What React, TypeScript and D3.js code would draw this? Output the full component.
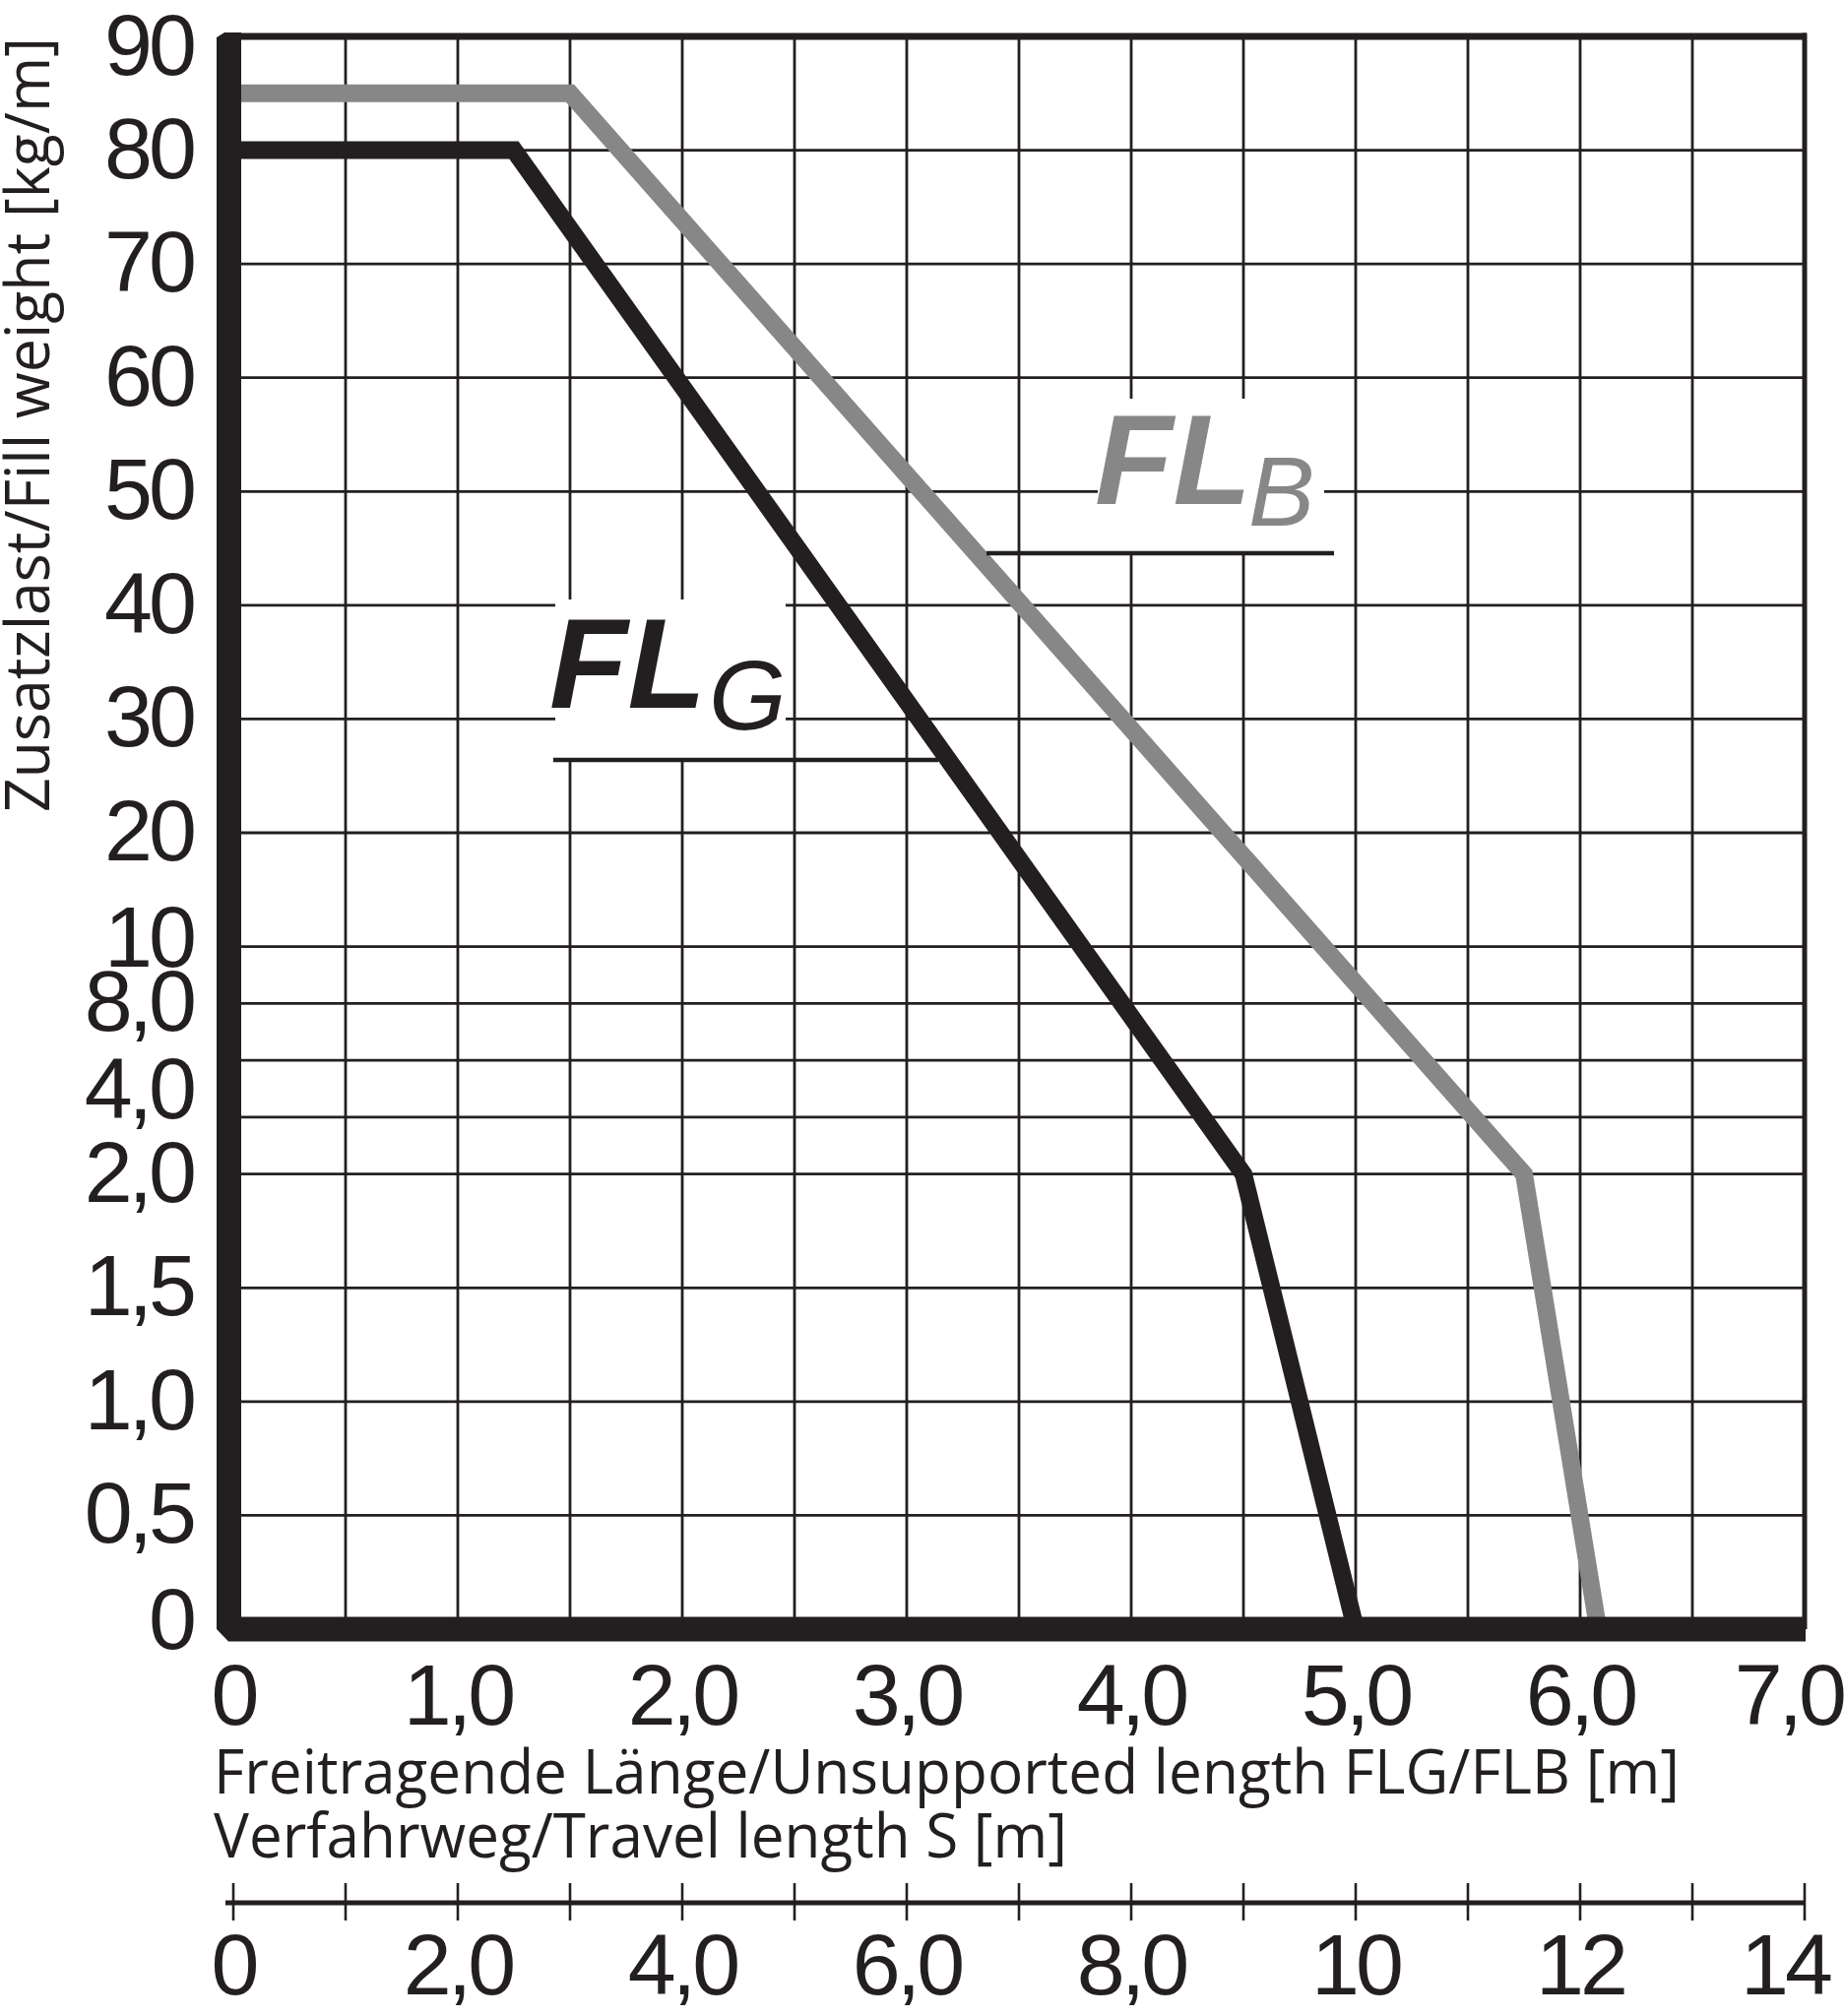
import React from "react";
import * as d3 from "d3";

// ---------- data ----------
const lengthG = [0, 1.25, 4.5, 5.0];
const weightG = [80, 80, 2, 0];
const lengthB = [0, 1.5, 5.75, 6.08];
const weightB = [85, 85, 2, 0];

const xTickValues = [0, 1, 2, 3, 4, 5, 6, 7];
const xTickLabels = ["0", "1,0", "2,0", "3,0", "4,0", "5,0", "6,0", "7,0"];

const sTickLabelValues = [0, 2, 4, 6, 8, 10, 12, 14];
const sTickLabels = ["0", "2,0", "4,0", "6,0", "8,0", "10", "12", "14"];

const yTickValues = [90, 80, 70, 60, 50, 40, 30, 20, 10, 8, 4, 2, 1.5, 1, 0.5, 0];
const yTickLabels = ["90", "80", "70", "60", "50", "40", "30", "20", "10", "8,0", "4,0", "2,0", "1,5", "1,0", "0,5", "0"];

const yGridValues = [80, 70, 60, 50, 40, 30, 20, 10, 8, 6, 4, 2, 1.5, 1, 0.5];

// non-uniform y axis: breakpoints and their grid-step positions
const yBreakValues = [0, 0.5, 1, 1.5, 2, 10, 20, 30, 40, 50, 60, 70, 80, 90];
const yBreakSteps = [14, 13, 12, 11, 10, 8, 7, 6, 5, 4, 3, 2, 1, 0];

// ---------- layout ----------
const W = 1873;
const H = 2048;
const X0 = 237;
const X7 = 1833;
const Y90 = 37;
const Y0 = 1655;
const STEP = (Y0 - Y90) / 14;

const INK = "#231f20";
const GREY = "#878787";
const TICK_FONT = "'Liberation Sans', Arial, Helvetica, sans-serif";
const TITLE_FONT = "'Open Sans', 'Noto Sans', sans-serif";

const x = d3.scaleLinear().domain([0, 7]).range([X0, X7]);
const s = d3.scaleLinear().domain([0, 14]).range([X0, X7]);
const y = d3
  .scaleLinear()
  .domain(yBreakValues)
  .range(yBreakSteps.map((k) => Y90 + k * STEP));

const yLabelNudge: Record<string, number> = { "90": 11, "10": -8, "4,0": -27, "0": -8 };

export default function App() {
  const line = d3
    .line<[number, number]>()
    .x((d) => x(d[0]))
    .y((d) => y(d[1]));
  const ptsG = lengthG.map((l, i) => [l, weightG[i]] as [number, number]);
  const ptsB = lengthB.map((l, i) => [l, weightB[i]] as [number, number]);

  const vGrid = d3.range(1, 14).map((k) => k * 0.5);
  const sTicks = d3.range(0, 15);

  const axisPoly = [
    [X0 - 17, Y90 + 1],
    [X0 - 9, Y90 - 4],
    [X0 + 8, Y90 - 4],
    [X0 + 8, Y0 - 12.5],
    [X7 + 1, Y0 - 12.5],
    [X7 + 1, Y0 + 12.5],
    [X0 - 5, Y0 + 12.5],
    [X0 - 17, Y0],
  ]
    .map((p) => p.join(","))
    .join(" ");

  return (
    <svg
      width={W}
      height={H}
      viewBox={`0 0 ${W} ${H}`}
      style={{ position: "absolute", left: 0, top: 0, background: "#fff" }}
    >
      <rect x={0} y={0} width={W} height={H} fill="#fff" />

      {/* grid */}
      <g stroke={INK} strokeWidth={2.8}>
        {vGrid.map((v) => (
          <line key={"v" + v} x1={x(v)} x2={x(v)} y1={Y90} y2={Y0} />
        ))}
        {yGridValues.map((v) => (
          <line key={"h" + v} x1={X0} x2={X7} y1={y(v)} y2={y(v)} />
        ))}
      </g>
      {/* top and right border */}
      <line x1={X0} x2={X7 + 2} y1={y(90)} y2={y(90)} stroke={INK} strokeWidth={7} />
      <line x1={x(7)} x2={x(7)} y1={Y90 - 3.5} y2={Y0} stroke={INK} strokeWidth={5} />

      {/* label backgrounds */}
      <rect x={564} y={609} width={234} height={163} fill="#fff" />
      <rect x={1115} y={405} width={230} height={157} fill="#fff" />

      {/* curves */}
      <path d={line(ptsB) || ""} fill="none" stroke={GREY} strokeWidth={18} strokeLinejoin="miter" />
      <path d={line(ptsG) || ""} fill="none" stroke={INK} strokeWidth={18} strokeLinejoin="miter" />

      {/* label underlines */}
      <line x1={562} x2={953} y1={772} y2={772} stroke={INK} strokeWidth={4.5} />
      <line x1={1002} x2={1355} y1={562} y2={562} stroke={INK} strokeWidth={4.5} />

      {/* curve labels */}
      <text x={558} y={719} fontFamily={TICK_FONT} fontSize={130} fontWeight="bold" fontStyle="italic" fill={INK}>
        FL
      </text>
      <text x={720} y={741} fontFamily={TICK_FONT} fontSize={101} fontStyle="italic" fill={INK}>
        G
      </text>
      <text x={1112} y={512} fontFamily={TICK_FONT} fontSize={130} fontWeight="bold" fontStyle="italic" fill={GREY}>
        FL
      </text>
      <text x={1268} y={534} fontFamily={TICK_FONT} fontSize={101} fontStyle="italic" fill={GREY}>
        B
      </text>

      {/* thick axes */}
      <polygon points={axisPoly} fill={INK} />

      {/* y tick labels */}
      <g fontFamily={TICK_FONT} fontSize={88} fill={INK} textAnchor="end" letterSpacing={-4}>
        {yTickValues.map((v, i) => (
          <text key={"yl" + i} x={196} y={y(v) + 28 + (yLabelNudge[yTickLabels[i]] || 0)}>
            {yTickLabels[i]}
          </text>
        ))}
      </g>

      {/* x tick labels */}
      <g fontFamily={TICK_FONT} fontSize={88} fill={INK} letterSpacing={-4}>
        {xTickValues.map((v, i) => {
          const last = i === xTickValues.length - 1;
          return (
            <text
              key={"xl" + i}
              x={last ? W - 1 : x(v)}
              y={1752}
              textAnchor={last ? "end" : "middle"}
            >
              {xTickLabels[i]}
            </text>
          );
        })}
      </g>

      {/* axis titles */}
      <text
        x={217}
        y={1822}
        fontFamily={TITLE_FONT}
        fontSize={63}
        fill={INK}
        textLength={1489}
        lengthAdjust="spacingAndGlyphs"
      >
        Freitragende Länge/Unsupported length FLG/FLB [m]
      </text>
      <text
        x={217}
        y={1887}
        fontFamily={TITLE_FONT}
        fontSize={63}
        fill={INK}
        textLength={867}
        lengthAdjust="spacingAndGlyphs"
      >
        Verfahrweg/Travel length S [m]
      </text>
      <text
        transform={`translate(50,825) rotate(-90)`}
        fontFamily={TITLE_FONT}
        fontSize={62}
        fill={INK}
        textLength={787}
        lengthAdjust="spacingAndGlyphs"
      >
        Zusatzlast/Fill weight [kg/m]
      </text>

      {/* secondary axis: travel length */}
      <line x1={s(0) - 8} x2={s(14) + 1} y1={1933} y2={1933} stroke={INK} strokeWidth={5} />
      <g stroke={INK} strokeWidth={2.6}>
        {sTicks.map((v) => (
          <line key={"st" + v} x1={s(v)} x2={s(v)} y1={1913} y2={1951} />
        ))}
      </g>
      <g fontFamily={TICK_FONT} fontSize={88} fill={INK} letterSpacing={-4}>
        {sTickLabelValues.map((v, i) => {
          const last = i === sTickLabelValues.length - 1;
          return (
            <text
              key={"sl" + i}
              x={last ? 1858 : s(v)}
              y={2026}
              textAnchor={last ? "end" : "middle"}
            >
              {sTickLabels[i]}
            </text>
          );
        })}
      </g>
    </svg>
  );
}
